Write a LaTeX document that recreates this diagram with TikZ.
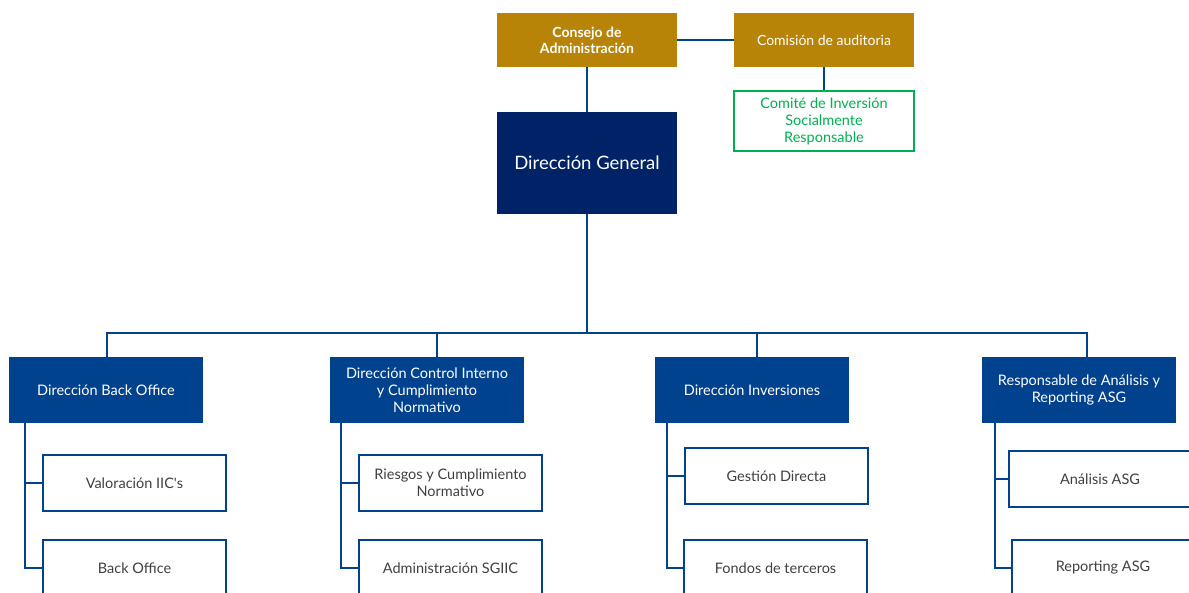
\documentclass[tikz,border=0pt]{standalone}
\usepackage{fontspec}
\setmainfont{Lato}
\definecolor{goldc}{RGB}{184,132,8}
\definecolor{navyc}{RGB}{0,34,102}
\definecolor{bluec}{RGB}{0,66,142}
\definecolor{greenc}{RGB}{0,176,80}
\definecolor{grayc}{RGB}{64,64,64}
\tikzset{
  goldbox/.style={fill=goldc, draw=none, text=white, minimum width=180pt, minimum height=54pt, align=center, inner sep=0pt, font=\fontsize{14}{16}\selectfont},
  greenbox/.style={draw=greenc, line width=2pt, fill=white, text=greenc, minimum width=180pt, minimum height=60pt, align=center, inner sep=0pt, font=\fontsize{14.5}{17}\selectfont},
  dgbox/.style={fill=navyc, draw=none, text=white, minimum width=180pt, minimum height=102pt, align=center, inner sep=0pt, font=\fontsize{18.5}{21}\selectfont},
  l2box/.style={fill=bluec, draw=none, text=white, minimum width=194pt, minimum height=66pt, align=center, inner sep=0pt, font=\fontsize{14.5}{17}\selectfont},
  l3box/.style={draw=bluec, line width=2pt, fill=white, text=grayc, minimum width=183pt, minimum height=56pt, align=center, inner sep=0pt, font=\fontsize{14.5}{17}\selectfont},
  conn/.style={draw=bluec, line width=2pt},
}
\begin{document}
\begin{tikzpicture}[x=1pt,y=-1pt]
\useasboundingbox (0,0) rectangle (1189,592);
\clip (0,0) rectangle (1189,592);
% top
\node[goldbox] (cons) at (587,40) {\textbf{Consejo de}\\\textbf{Administración}};
\node[goldbox] (comi) at (824,40) {Comisión de auditoria};
\node[greenbox] (cisr) at (824,121) {Comité de Inversión\\Socialmente\\Responsable};
\node[dgbox] (dg) at (587,163) {Dirección General};
\draw[conn] (cons.east) -- (comi.west);
\draw[conn] (comi.south) -- (cisr.north);
\draw[conn] (cons.south) -- (dg.north);
% level 2
\node[l2box] (bo) at (106,390) {Dirección Back Office};
\node[l2box] (ci) at (427,390) {Dirección Control Interno\\y Cumplimiento\\Normativo};
\node[l2box] (inv) at (752,390) {Dirección Inversiones};
\node[l2box] (resp) at (1079,390) {Responsable de Análisis y\\Reporting ASG};
\coordinate (bus) at (587,333);
\draw[conn] (dg.south) -- (bus);
\draw[conn] (bus) -| ([xshift=1pt]bo.north);
\draw[conn] (bus) -| ([xshift=10pt]ci.north);
\draw[conn] (bus) -| ([xshift=5pt]inv.north);
\draw[conn] (bus) -| ([xshift=8pt]resp.north);
% level 3
\node[l3box] (val) at (134.5,483) {Valoración IIC\textquotesingle s};
\node[l3box] (bko) at (134.5,568) {Back Office};
\node[l3box] (rcn) at (450.5,483) {Riesgos y Cumplimiento\\Normativo};
\node[l3box] (adm) at (450.5,568) {Administración SGIIC};
\node[l3box] (ges) at (776.5,476) {Gestión Directa};
\node[l3box] (fon) at (775.5,568) {Fondos de terceros};
\node[l3box] (ana) at (1100,479) {Análisis ASG};
\node[l3box] (rep) at (1103,568) {Reporting ASG};
\draw[conn] ([xshift=16pt]bo.south west) |- (val.west);
\draw[conn] ([xshift=16pt]bo.south west) |- (bko.west);
\draw[conn] ([xshift=11pt]ci.south west) |- (rcn.west);
\draw[conn] ([xshift=11pt]ci.south west) |- (adm.west);
\draw[conn] ([xshift=12pt]inv.south west) |- (ges.west);
\draw[conn] ([xshift=12pt]inv.south west) |- (fon.west);
\draw[conn] ([xshift=13pt]resp.south west) |- (ana.west);
\draw[conn] ([xshift=13pt]resp.south west) |- (rep.west);
\end{tikzpicture}
\end{document}
